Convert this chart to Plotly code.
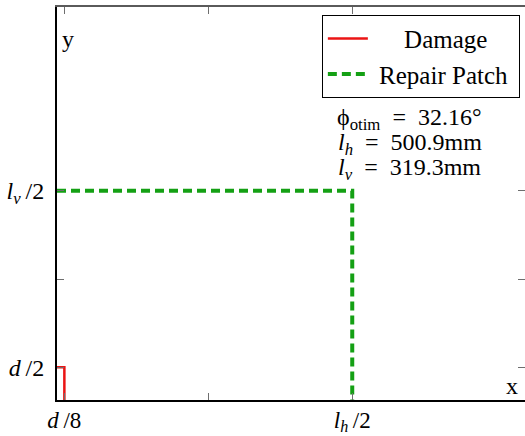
import plotly.graph_objects as go

# Geometry of the damage and of the optimised repair patch (mm)
d = 50.0            # damage size
l_h = 500.9         # patch horizontal length
l_v = 319.3         # patch vertical length
phi_otim = 32.16    # optimal ply angle (deg)

# Quarter outlines (symmetry about x and y axes)
damage_x = [0, d / 8, d / 8]
damage_y = [d / 2, d / 2, 0]
patch_x = [0, l_h / 2, l_h / 2]
patch_y = [l_v / 2, l_v / 2, 0]

thin = "\u2009"
x_ticks = [d / 8, (d / 8 + l_h / 2) / 2, l_h / 2]
x_tick_text = [f"<i>d</i>{thin}/8", "", f"<i>l<sub>h</sub></i>{thin}/2"]
y_ticks = [d / 2, (d / 2 + l_v / 2) / 2, l_v / 2]
y_tick_text = [f"<i>d</i>{thin}/2", "", f"<i>l<sub>v</sub></i>{thin}/2"]

x_range = [0, 397]
y_range = [0, 300]

serif = "Liberation Serif"
fs = 24
nb = "\u00a0"

fig = go.Figure()
fig.add_trace(go.Scatter(x=damage_x, y=damage_y, mode="lines",
                         name=nb * 5 + "Damage",
                         line=dict(color="rgb(235,20,20)", width=2.5)))
fig.add_trace(go.Scatter(x=patch_x, y=patch_y, mode="lines",
                         name=nb + "Repair Patch" + nb,
                         line=dict(color="rgb(20,160,20)", width=4, dash="9px,5px")))

# Invisible helper trace that carries the mirrored top/right axes
fig.add_trace(go.Scatter(x=[None], y=[None], xaxis="x2", yaxis="y2",
                         showlegend=False, hoverinfo="skip"))

axis_common = dict(showgrid=False, zeroline=False, ticks="inside", ticklen=7,
                   tickcolor="rgb(110,110,110)", tickwidth=1.2, automargin=False)

fig.update_layout(
    width=525, height=436,
    margin=dict(l=57, r=0, t=7, b=36),
    paper_bgcolor="white", plot_bgcolor="white",
    font=dict(family=serif, size=fs, color="black"),
    xaxis=dict(range=x_range, tickvals=x_ticks, ticktext=x_tick_text,
               showline=True, linecolor="black", linewidth=2,
               ticklabelstandoff=-2,
               tickfont=dict(family=serif, size=23), **axis_common),
    yaxis=dict(range=y_range, tickvals=y_ticks, ticktext=y_tick_text,
               showline=True, linecolor="black", linewidth=2,
               ticklabelstandoff=6,
               tickfont=dict(family=serif, size=fs), **axis_common),
    xaxis2=dict(range=x_range, tickvals=x_ticks, showticklabels=False,
                overlaying="x", side="top", showline=True,
                linecolor="rgb(90,90,90)", linewidth=1.5, **axis_common),
    yaxis2=dict(range=y_range, tickvals=y_ticks, showticklabels=False,
                overlaying="y", side="right", showline=False, **axis_common),
    legend=dict(x=0.989, y=0.98, xanchor="right", yanchor="top",
                bordercolor="black", borderwidth=1, bgcolor="white",
                font=dict(family=serif, size=25), itemwidth=40),
    showlegend=True,
)

fig.add_annotation(xref="paper", yref="paper", x=0.024, y=0.918,
                   text="y", showarrow=False, xanchor="center", yanchor="middle",
                   font=dict(family=serif, size=fs))
fig.add_annotation(xref="paper", yref="paper", x=0.972, y=0.035,
                   text="x", showarrow=False, xanchor="center", yanchor="middle",
                   font=dict(family=serif, size=fs))

eq = "\u2002=\u2002"
info_lines = [
    f"ϕ<sub>otim</sub>{eq}{phi_otim:.2f}°",
    f"<i>l<sub>h</sub></i>{eq}{l_h:.1f}mm",
    f"<i>l<sub>v</sub></i>{eq}{l_v:.1f}mm",
]
for line, ypos in zip(info_lines, [0.714, 0.651, 0.587]):
    fig.add_annotation(xref="paper", yref="paper", x=0.754, y=ypos,
                       text=line, showarrow=False, xanchor="center",
                       yanchor="middle", font=dict(family=serif, size=fs))

fig.write_html("out.html")
